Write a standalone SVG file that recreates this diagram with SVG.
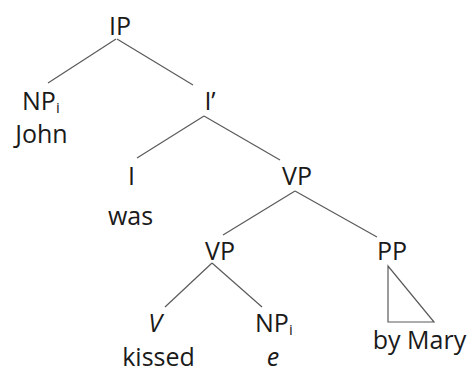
<svg xmlns="http://www.w3.org/2000/svg" width="469" height="371" viewBox="0 0 469 371">
<style>
text{font-family:"Open Sans","Liberation Sans",sans-serif;font-size:25px;fill:#1a1a1a}
.m{text-anchor:middle}
.it{font-style:italic}
.sub{font-size:15px}
#edges line,#edges polygon{stroke:#5a5a5a;stroke-width:1.2;fill:none}
</style>
<rect width="469" height="371" fill="#fff"/>
<g id="edges">
<line x1="116" y1="39" x2="48" y2="83"/>
<line x1="117" y1="39" x2="193" y2="85"/>
<line x1="204" y1="116" x2="137" y2="158"/>
<line x1="204" y1="116" x2="280" y2="160"/>
<line x1="295" y1="191" x2="223" y2="235"/>
<line x1="295" y1="191" x2="377" y2="237"/>
<line x1="212" y1="263" x2="165" y2="307"/>
<line x1="212" y1="263" x2="262" y2="307"/>
<polygon points="388,266 388,322 434,322"/>
</g>
<g id="IP"><text class="m" x="120" y="35">IP</text></g>
<g id="NPi"><text x="22" y="110">NP<tspan class="sub" dy="3">i</tspan></text><text class="m" x="41.5" y="143">John</text></g>
<g id="Ibar"><text class="m" x="210" y="110">I’</text></g>
<g id="I"><text class="m" x="131.5" y="185">I</text><text class="m" x="130.5" y="225">was</text></g>
<g id="VP1"><text class="m" x="297" y="185">VP</text></g>
<g id="VP2"><text class="m" x="220" y="260">VP</text></g>
<g id="PP"><text class="m" x="392" y="260">PP</text><text class="m" x="419.5" y="349">by Mary</text></g>
<g id="V"><text class="m it" x="155" y="332">V</text><text class="m" x="158.5" y="366">kissed</text></g>
<g id="NPi2"><text x="255" y="332">NP<tspan class="sub" dy="3">i</tspan></text><text class="m it" x="273" y="366">e</text></g>
</svg>
